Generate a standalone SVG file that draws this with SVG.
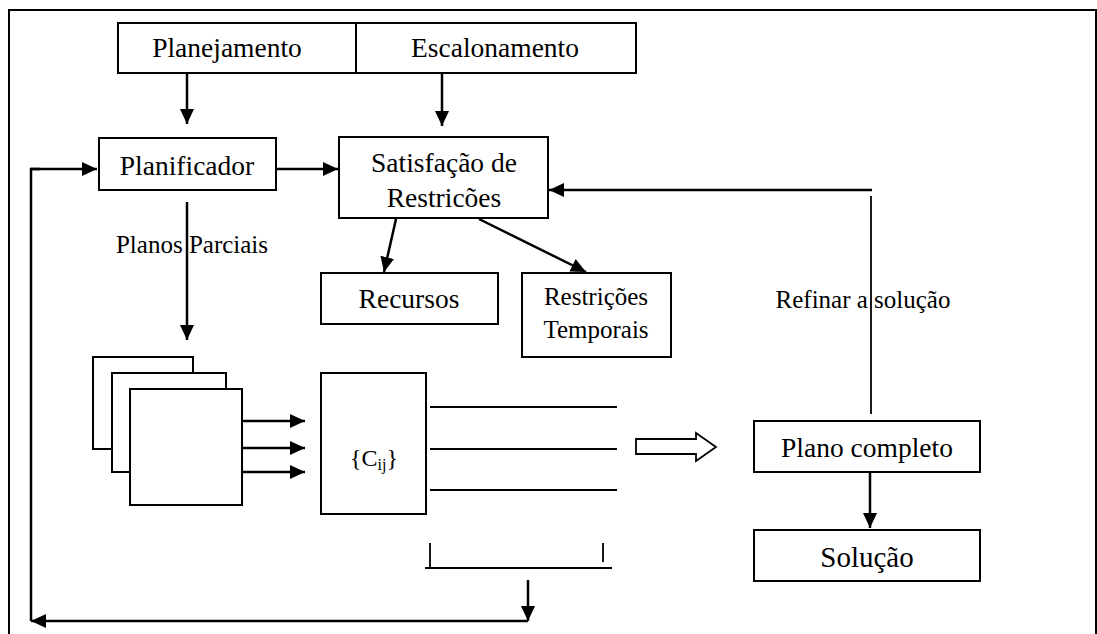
<svg xmlns="http://www.w3.org/2000/svg" width="1097" height="634" viewBox="0 0 1097 634">
<defs>
<marker id="ah" markerUnits="userSpaceOnUse" markerWidth="16" markerHeight="14" refX="15" refY="7" orient="auto">
<path d="M0,0 L15,7 L0,14 z" fill="#000"/>
</marker>
<style>
.box{fill:#fff;stroke:#000;stroke-width:2}
text{font-family:'Liberation Serif','Times New Roman',serif;fill:#000;text-anchor:middle}
.big{font-size:27.5px}
.sm{font-size:25px}
.c{fill:none;stroke:#000;stroke-width:2.5}
.a{fill:none;stroke:#000;stroke-width:2.5;marker-end:url(#ah)}
.thin{fill:none;stroke:#000;stroke-width:1.8}
</style>
</defs>
<rect width="1097" height="634" fill="#fff"/>
<g id="frame">
<path d="M9,634 V10 H1096 V634" fill="none" stroke="#000" stroke-width="2"/>
</g>
<g id="planejamento"><rect class="box" x="118" y="23" width="238" height="50"/><text font-family="Liberation Serif, serif" class="big" x="227" y="57">Planejamento</text></g>
<g id="escalonamento"><rect class="box" x="356" y="23" width="280" height="50"/><text font-family="Liberation Serif, serif" class="big" x="495" y="57">Escalonamento</text></g>
<g id="planificador"><rect class="box" x="99" y="138" width="177" height="52"/><text font-family="Liberation Serif, serif" class="big" x="187" y="175">Planificador</text></g>
<g id="satisfacao"><rect class="box" x="339" y="137" width="209" height="81"/><text font-family="Liberation Serif, serif" class="big" x="444" y="172">Satisfação de</text><text font-family="Liberation Serif, serif" class="big" x="444" y="207">Restricões</text></g>
<g id="recursos"><rect class="box" x="321" y="273" width="177" height="51"/><text font-family="Liberation Serif, serif" class="big" x="409" y="308">Recursos</text></g>
<g id="restricoes-temporais"><rect class="box" x="522" y="273" width="149" height="84"/><text font-family="Liberation Serif, serif" class="sm" x="596" y="305">Restrições</text><text font-family="Liberation Serif, serif" class="sm" x="596" y="338">Temporais</text></g>
<g id="planos-stack"><rect class="box" x="93" y="357" width="100" height="92"/><rect class="box" x="112" y="373" width="114" height="99"/><rect class="box" x="130" y="389" width="112" height="116"/></g>
<g id="cij"><rect class="box" x="321" y="373" width="105" height="141"/><text font-family="Liberation Serif, serif" x="374" y="466" font-size="24">{C<tspan font-size="16" dy="4">ij</tspan><tspan dy="-4">}</tspan></text></g>
<g id="plano-completo"><rect class="box" x="754" y="421" width="226" height="51"/><text font-family="Liberation Serif, serif" class="big" x="867" y="457">Plano completo</text></g>
<g id="solucao"><rect class="box" x="754" y="530" width="226" height="51"/><text font-family="Liberation Serif, serif" x="867" y="567" font-size="29">Solução</text></g>
<g id="connectors">
<line class="a" x1="187" y1="73" x2="187" y2="124"/>
<line class="a" x1="442" y1="73" x2="442" y2="126"/>
<line class="a" x1="276" y1="169" x2="338" y2="169"/>
<line class="a" x1="187" y1="202" x2="187" y2="340"/>
<line class="a" x1="396" y1="219" x2="384" y2="272"/>
<line class="a" x1="479" y1="219" x2="586" y2="272"/>
<line class="a" x1="242" y1="421" x2="305" y2="421"/>
<line class="a" x1="242" y1="448" x2="305" y2="448"/>
<line class="a" x1="242" y1="472" x2="305" y2="472"/>
<line class="thin" x1="430" y1="407" x2="617" y2="407"/>
<line class="thin" x1="430" y1="449" x2="617" y2="449"/>
<line class="thin" x1="430" y1="490" x2="617" y2="490"/>
<polygon points="636,439 696,439 696,433 716,447 696,461 696,454 636,454" fill="#fff" stroke="#000" stroke-width="1.8"/>
<line class="a" x1="870" y1="472" x2="870" y2="528"/>
<line class="thin" x1="871" y1="196" x2="871" y2="414"/>
<line class="a" x1="872" y1="190" x2="549" y2="190"/>
<path class="thin" d="M430,543 V567 M425,568 H612 M603,543 V562"/>
<line class="a" x1="528" y1="580" x2="528" y2="621"/>
<line class="a" x1="528" y1="621" x2="31" y2="621"/>
<path class="c" d="M31,621 V169 H40"/>
<line class="a" x1="31" y1="169" x2="97" y2="169"/>
</g>
<g id="labels">
<text font-family="Liberation Serif, serif" class="sm" x="192" y="253">Planos Parciais</text>
<text font-family="Liberation Serif, serif" class="sm" x="863" y="308">Refinar a solução</text>
</g>
</svg>
